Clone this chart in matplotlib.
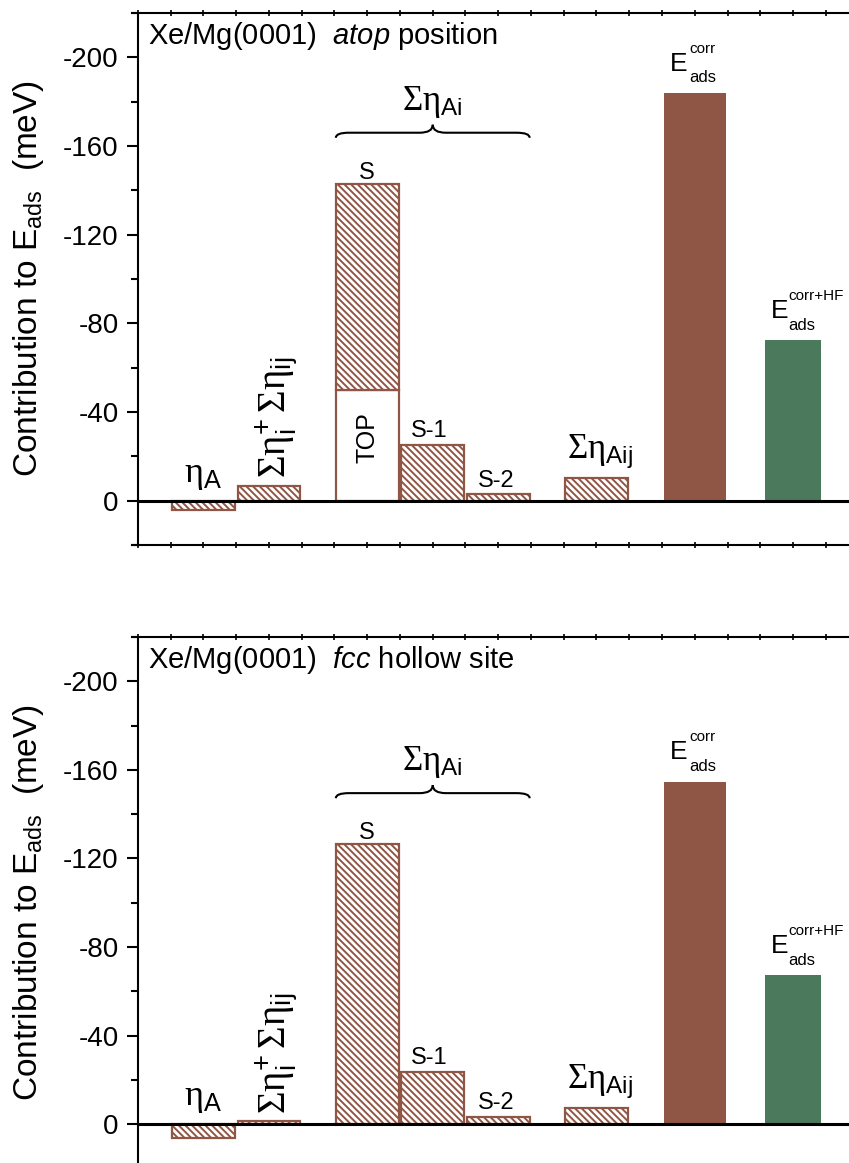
import matplotlib
matplotlib.use("Agg")
import matplotlib.pyplot as plt
from matplotlib.path import Path
from matplotlib.patches import PathPatch
from matplotlib.ticker import MultipleLocator

plt.rcParams["font.family"] = ["Liberation Sans", "DejaVu Sans"]
plt.rcParams["mathtext.fontset"] = "custom"
plt.rcParams["mathtext.rm"] = "Liberation Serif"
plt.rcParams["mathtext.sf"] = "Liberation Sans"
plt.rcParams["mathtext.it"] = "Liberation Sans:italic"
plt.rcParams["axes.unicode_minus"] = False
plt.rcParams["hatch.linewidth"] = 1.4

brown = "#8f5645"
green = "#4a795b"
hatch = "\\" * 5

# increments to the adsorption energy, meV (negative = binding)
terms = ["eta_A", "eta_i+eta_ij", "S", "S-1", "S-2", "eta_Aij", "E_corr", "E_corr+HF"]
xpos = [1, 2, 3.5, 4.5, 5.5, 7, 8.5, 10]

atop_vals = [4.3, -6.7, -143, -25, -2.9, -10.2, -184, -72.5]
atop_top = -50  # share of the TOP atom inside the S layer
fcc_vals = [6.3, -1.3, -126.5, -23.8, -3.5, -7.4, -154.7, -67.4]


def draw_brace(ax, x0, x1, y, h_end=2.3, h_tip=3.6, d=0.2):
    xm = (x0 + x1) / 2
    verts = [(x0, y + h_end), (x0, y), (x0 + d, y), (xm - d, y), (xm, y), (xm, y - h_tip),
             (xm, y), (xm + d, y), (x1 - d, y), (x1, y), (x1, y + h_end)]
    codes = [Path.MOVETO, Path.CURVE3, Path.CURVE3, Path.LINETO, Path.CURVE3, Path.CURVE3,
             Path.CURVE3, Path.CURVE3, Path.LINETO, Path.CURVE3, Path.CURVE3]
    ax.add_patch(PathPatch(Path(verts, codes), fill=False, lw=1.5, color="k"))


def e_label(ax, x, y, sup, dx_e=-18, dx_s=-4):
    # E with stacked super/subscript, placed just above a bar top
    kw = dict(xycoords="data", textcoords="offset points", ha="left", va="baseline")
    ax.annotate("E", (x, y), xytext=(dx_e, 16), fontsize=19, **kw)
    ax.annotate(sup, (x, y), xytext=(dx_s, 29), fontsize=11, **kw)
    ax.annotate("ads", (x, y), xytext=(dx_s, 7.5), fontsize=12, **kw)


def draw_panel(ax, vals, site, top_part=None):
    # hatched increments
    for i in [0, 1, 3, 4, 5]:
        ax.bar(xpos[i], vals[i], width=0.96, color="white", edgecolor=brown,
               hatch=hatch, linewidth=1.6)
    if top_part is None:
        ax.bar(xpos[2], vals[2], width=0.96, color="white", edgecolor=brown,
               hatch=hatch, linewidth=1.6)
    else:
        ax.bar(xpos[2], top_part, width=0.96, color="white", edgecolor=brown, linewidth=1.6)
        ax.bar(xpos[2], vals[2] - top_part, bottom=top_part, width=0.96, color="white",
               edgecolor=brown, hatch=hatch, linewidth=1.6)
        ax.text(xpos[2], top_part * 0.57, "TOP", rotation=90, ha="center", va="center",
                fontsize=18)
    ax.bar(xpos[6], vals[6], width=0.94, color=brown, edgecolor="none")
    ax.bar(xpos[7], vals[7], width=0.87, color=green, edgecolor="none")

    ax.axhline(0, color="black", lw=2.2, zorder=4)

    ax.text(xpos[0], -12, r"$\mathrm{\eta}_{\mathsf{A}}$", ha="center", va="center",
            fontsize=26)
    ax.text(xpos[1] + 0.13, min(vals[1], 0) - 3.5,
            r"$\mathrm{\Sigma\eta}_{\mathsf{i}}^{\mathsf{+}}\,\mathrm{\Sigma\eta}_{\mathsf{ij}}$",
            rotation=90, ha="center", va="bottom", fontsize=28)
    ax.text(xpos[2], vals[2] - 2.3, "S", ha="center", va="baseline", fontsize=17)
    ax.text(xpos[3] - 0.05, vals[3] - 3.6, "S-1", ha="center", va="baseline", fontsize=17)
    ax.text(xpos[4] - 0.03, vals[4] - 3.2, "S-2", ha="center", va="baseline", fontsize=17)

    brace_y = vals[2] - 23
    draw_brace(ax, 3.02, 5.98, brace_y)
    ax.text(4.5, brace_y - 14, r"$\mathrm{\Sigma\eta}_{\mathsf{Ai}}$", ha="center",
            va="center", fontsize=25)
    ax.text(xpos[5] + 0.05, vals[5] - 3, r"$\mathrm{\Sigma\eta}_{\mathsf{Aij}}$",
            ha="center", va="bottom", fontsize=25)
    e_label(ax, xpos[6], vals[6], "corr")
    e_label(ax, xpos[7], vals[7], "corr+HF", dx_e=-16, dx_s=-3.5)

    ax.text(0.15, -206, "Xe/Mg(0001)  " + site, ha="left", va="baseline", fontsize=21)

    ax.set_xlim(0, 11)
    ax.set_ylim(20, -220)
    ax.yaxis.set_major_locator(MultipleLocator(40))
    ax.yaxis.set_minor_locator(MultipleLocator(20))
    ax.xaxis.set_major_locator(MultipleLocator(0.5))
    ax.tick_params(axis="y", which="major", direction="out", length=8, width=1.5,
                   labelsize=20, pad=6)
    ax.tick_params(axis="y", which="minor", direction="out", length=5, width=1.5)
    ax.tick_params(axis="x", which="major", direction="inout", length=4, width=1.2,
                   top=True, bottom=True, labelbottom=False)
    for side in ["left", "top", "bottom"]:
        ax.spines[side].set_linewidth(1.5)
    ax.spines["right"].set_visible(False)
    for yy in [0, 1]:
        ax.plot([-0.008, 0], [yy, yy], transform=ax.transAxes, color="black", lw=1.5,
                clip_on=False)
    ax.set_ylabel(r"Contribution to $\mathsf{E}_{\mathsf{ads}}$  (meV)", fontsize=24,
                  labelpad=12)


fig = plt.figure(figsize=(8.49, 11.63), dpi=100)
ax1 = fig.add_axes([0.1625, 0.5314, 0.8487, 0.4574])
ax2 = fig.add_axes([0.1625, -0.0048, 0.8487, 0.4571])

draw_panel(ax1, atop_vals, r"$\mathit{atop}$ position", top_part=atop_top)
draw_panel(ax2, fcc_vals, r"$\mathit{fcc}$ hollow site")

fig.savefig("out.png", dpi=100)
